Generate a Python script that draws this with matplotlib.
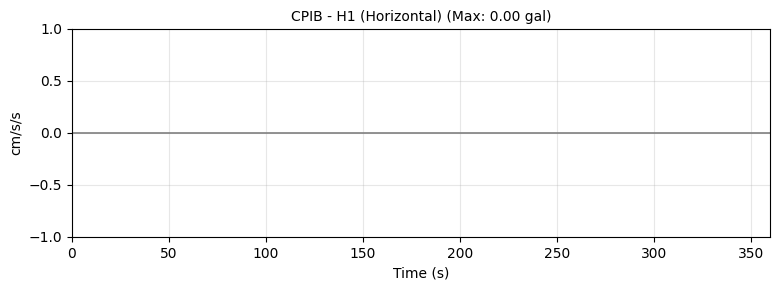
import matplotlib
matplotlib.use("Agg")
import matplotlib.pyplot as plt

station = "CPIB"
channel = "H1 (Horizontal)"
max_gal = 0.00
x_limits = [0, 360]
y_limits = [-1.0, 1.0]
time_s = [0, 360]
accel = [0.0, 0.0]

fig = plt.figure(figsize=(7.81, 2.9), dpi=100)
ax = fig.add_axes([72/781, 1-237/290, (770-72)/781, (237-29)/290])
ax.plot(time_s, accel, color="gray", linewidth=1.2)
ax.set_xlim(*x_limits)
ax.set_ylim(*y_limits)
ax.grid(True, alpha=0.3)
ax.set_title(f"{station} - {channel} (Max: {max_gal:.2f} gal)", fontsize=10)
ax.set_xlabel("Time (s)")
ax.set_ylabel("cm/s/s")
fig.savefig("out.png", dpi=100)
